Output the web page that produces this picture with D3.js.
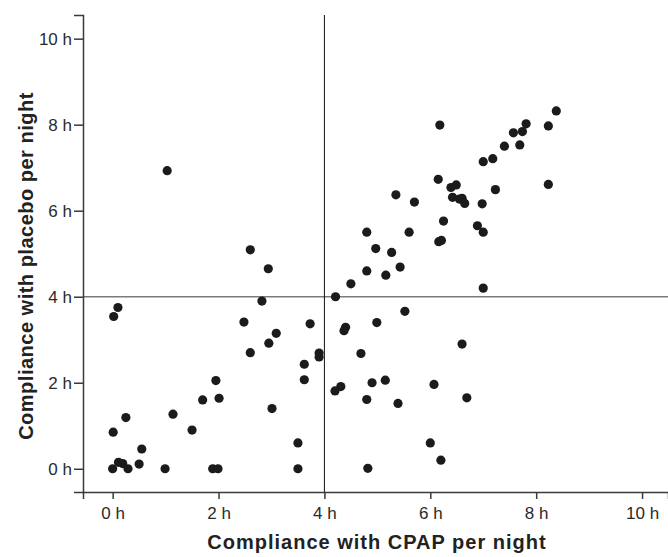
<!doctype html>
<html lang="en">
<head>
    <meta charset="UTF-8">
    <title>CPAP vs placebo compliance</title>
    <style>
        body { margin: 0; background: #fff; }
        #chart { display: block; font-family: "Liberation Sans", Arial, sans-serif; }
        #chart .axis path, #chart .axis line { stroke: #3a3a3a; stroke-width: 1.5; }
        #chart .axis text { fill: #2a2a2a; font-size: 17px; }
        #chart .title { font-size: 20px; font-weight: bold; fill: #222; }
    </style>
</head>
<body>
<svg id="chart" width="668" height="557"></svg>

<script src="https://cdn.jsdelivr.net/npm/d3@7"></script>
<script>
    // hours per night
    var cpap = [
        1.03, 2.60, 2.94, 2.82, 4.21, 6.18, 8.38, 7.81, 7.74, 7.57,
        8.23, 7.40, 7.69, 7.18, 7.00, 8.23, 7.23, 6.15, 6.39, 6.49,
        6.42, 6.55, 6.60, 6.65, 6.98, 5.35, 5.70, 6.25, 6.89, 7.00,
        4.80, 5.60, 6.16, 6.21, 4.97, 5.27, 5.43, 4.80, 5.16, 4.50,
        7.00, 0.02, 0.10, 2.48, 3.73, 3.09, 2.95, 2.60, 3.90, 3.90,
        3.62, 3.62, 4.20, 4.31, 1.95, 2.01, 1.70, 3.01, 1.14, 0.25,
        1.50, 0.01, 0.55, 3.50, 0.50, 0.11, 0.19, 0.29, 0.00, 0.99,
        1.89, 1.99, 3.50, 5.52, 4.99, 4.40, 4.37, 6.60, 4.69, 5.15,
        4.90, 6.07, 4.80, 5.39, 6.69, 6.00, 6.20, 4.82
    ]
    var placebo = [
        6.93, 5.09, 4.65, 3.90, 4.00, 7.99, 8.32, 8.02, 7.84, 7.81,
        7.97, 7.50, 7.53, 7.21, 7.14, 6.61, 6.49, 6.73, 6.54, 6.60,
        6.31, 6.27, 6.29, 6.17, 6.16, 6.37, 6.20, 5.76, 5.65, 5.50,
        5.50, 5.50, 5.28, 5.31, 5.12, 5.03, 4.69, 4.60, 4.50, 4.30,
        4.20, 3.54, 3.75, 3.41, 3.37, 3.15, 2.92, 2.70, 2.69, 2.60,
        2.43, 2.07, 1.81, 1.91, 2.05, 1.64, 1.60, 1.40, 1.27, 1.19,
        0.90, 0.85, 0.46, 0.60, 0.11, 0.15, 0.12, 0.00, 0.00, 0.00,
        0.00, 0.00, 0.00, 3.66, 3.40, 3.29, 3.21, 2.90, 2.68, 2.06,
        2.00, 1.96, 1.61, 1.52, 1.65, 0.60, 0.20, 0.01
    ]
    var ticks = [0, 2, 4, 6, 8, 10]
    var cutoff = 4

    var svg = d3.select('#chart')

    var xScale = d3.scaleLinear().domain([-0.56, 10.49]).range([83, 668])
    var yScale = d3.scaleLinear().domain([-0.54, 10.55]).range([492, 15])

    var fmt = function(d) { return d + ' h' }

    // reference lines at 4 h
    svg.append('line')
        .attr('x1', xScale.range()[0]).attr('x2', xScale.range()[1])
        .attr('y1', yScale(cutoff)).attr('y2', yScale(cutoff))
        .attr('stroke', '#7a7a7a').attr('stroke-width', 1.5)
    svg.append('line')
        .attr('x1', xScale(cutoff)).attr('x2', xScale(cutoff))
        .attr('y1', yScale.range()[0]).attr('y2', yScale.range()[1])
        .attr('stroke', '#111').attr('stroke-width', 1)

    svg.append('g')
        .attr('class', 'axis')
        .attr('transform', 'translate(0,' + yScale.range()[0] + ')')
        .call(d3.axisBottom(xScale).tickValues(ticks).tickFormat(fmt).tickSizeOuter(0).tickSize(7).tickPadding(8))

    svg.append('g')
        .attr('class', 'axis')
        .attr('transform', 'translate(' + xScale.range()[0] + ',0)')
        .call(d3.axisLeft(yScale).tickValues(ticks).tickFormat(fmt).tickSizeOuter(0).tickSize(9).tickPadding(2))

    svg.selectAll('.axis').attr('font-family', null).attr('font-size', null)

    svg.append('g').selectAll('circle')
        .data(cpap)
        .enter().append('circle')
        .attr('cx', function(d) { return xScale(d) })
        .attr('cy', function(d, i) { return yScale(placebo[i]) })
        .attr('r', 4.6)
        .attr('fill', '#1b1b1b')

    svg.append('text')
        .attr('class', 'title')
        .attr('x', 377)
        .attr('y', 549)
        .attr('text-anchor', 'middle')
        .attr('letter-spacing', 1)
        .text('Compliance with CPAP per night')

    svg.append('text')
        .attr('class', 'title')
        .attr('transform', 'translate(33,266) rotate(-90)')
        .attr('text-anchor', 'middle')
        .attr('letter-spacing', 0.5)
        .text('Compliance with placebo per night')
</script>
</body>
</html>
